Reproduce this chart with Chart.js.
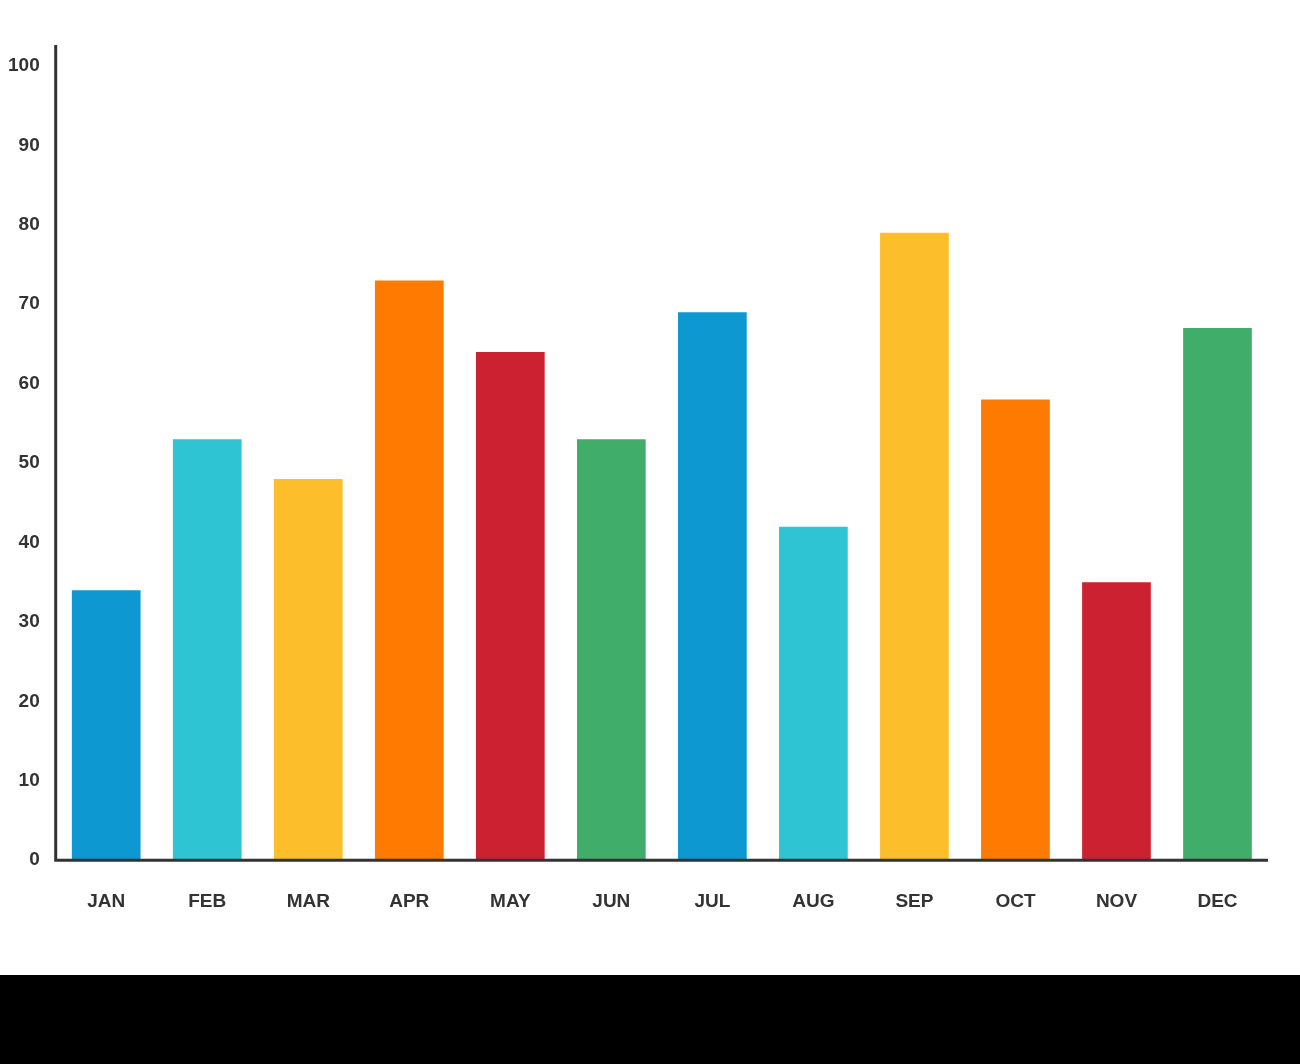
<!DOCTYPE html>
<html>
<head>
<meta charset="utf-8">
<script src="https://cdn.jsdelivr.net/npm/chart.js@4"></script>
<style>
  body { margin: 0; background: #fff; }
  .wrap { width: 1300px; height: 975px; position: relative; }
  .footer { width: 1300px; height: 89px; background: #000; }
</style>
</head>
<body>
<div class="wrap"><canvas id="myChart" width="1300" height="975"></canvas></div>
<div class="footer"></div>
<script>
const months = ["JAN", "FEB", "MAR", "APR", "MAY", "JUN", "JUL", "AUG", "SEP", "OCT", "NOV", "DEC"];
const values = [34, 53, 48, 73, 64, 53, 69, 42, 79, 58, 35, 67];
const barColors = ["#0E98D2", "#2EC4D3", "#FDBE2C", "#FF7A00", "#CB2131", "#41AD6B",
  "#0E98D2", "#2EC4D3", "#FDBE2C", "#FF7A00", "#CB2131", "#41AD6B"];

// thick dark axis lines, y line runs a bit above the 100 tick
const axisLines = {
  id: "axisLines",
  afterDraw(chart) {
    const { ctx, chartArea } = chart;
    ctx.save();
    ctx.strokeStyle = "#333";
    ctx.lineWidth = 3;
    ctx.beginPath();
    ctx.moveTo(chartArea.left, chartArea.top - 21);
    ctx.lineTo(chartArea.left, chartArea.bottom);
    ctx.lineTo(chartArea.right, chartArea.bottom);
    ctx.stroke();
    ctx.restore();
  },
};

const ctx = document.getElementById("myChart");

new Chart(ctx, {
  type: "bar",
  data: {
    labels: months,
    datasets: [
      {
        data: values,
        backgroundColor: barColors,
        barPercentage: 0.68,
        categoryPercentage: 1,
      },
    ],
  },
  options: {
    responsive: false,
    animation: false,
    layout: { padding: { top: 66, right: 32, left: 0, bottom: 40 } },
    plugins: { legend: { display: false }, tooltip: { enabled: false } },
    scales: {
      x: {
        grid: { display: false },
        border: { display: false },
        ticks: {
          color: "#333",
          padding: 22,
          font: { family: "Liberation Sans", size: 19, weight: "bold" },
        },
      },
      y: {
        min: 0,
        max: 100,
        grid: { display: false },
        border: { display: false },
        ticks: {
          stepSize: 10,
          color: "#333",
          padding: 8,
          font: { family: "Liberation Sans", size: 19, weight: "bold" },
        },
      },
    },
  },
  plugins: [axisLines],
});
</script>
</body>
</html>
